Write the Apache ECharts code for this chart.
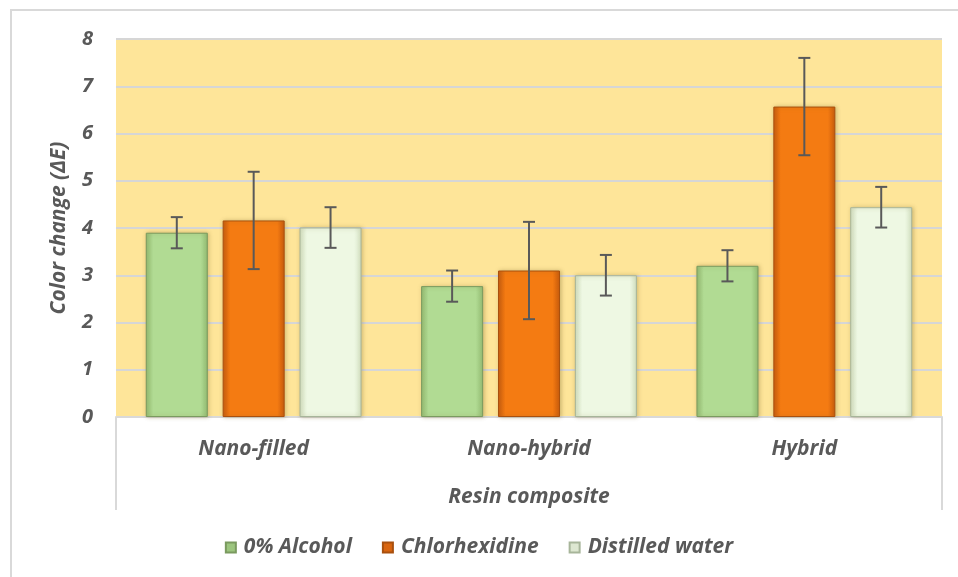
<!DOCTYPE html>
<html>
<head>
<meta charset="utf-8">
<script src="https://cdn.jsdelivr.net/npm/echarts@6/dist/echarts.min.js"></script>
<style>
  html, body { margin: 0; padding: 0; background: #fff; }
  #chart { width: 958px; height: 577px; }
</style>
</head>
<body>
<div id="chart"></div>
<script>
// categories and series
const categories = ["Nano-filled", "Nano-hybrid", "Hybrid"];
const seriesNames = ["0% Alcohol", "Chlorhexidine", "Distilled water"];
const alcohol = [3.9, 2.77, 3.2];
const chlorhexidine = [4.16, 3.1, 6.57];
const water = [4.01, 3.0, 4.44];
// standard deviations (error bars)
const alcoholSd = [0.33, 0.33, 0.33];
const chlorhexidineSd = [1.03, 1.03, 1.03];
const waterSd = [0.43, 0.43, 0.43];
const yTicks = [0, 1, 2, 3, 4, 5, 6, 7, 8];

const FONT = "'Open Sans', 'Noto Sans', sans-serif";
const TEXT = "#595959";
const txt = (size) => ({ fontFamily: FONT, fontSize: size, fontWeight: "bold", fontStyle: "italic", color: TEXT });

// bevel-ish horizontal gradients
const grad = (edge, mid) => new echarts.graphic.LinearGradient(0, 0, 1, 0, [
  { offset: 0, color: edge },
  { offset: 0.12, color: mid },
  { offset: 0.88, color: mid },
  { offset: 1, color: edge },
]);
const colors = [
  { fill: grad("#93bd74", "#b1db93"), border: "#7a9a5f", legend: "#9cc57e" },
  { fill: grad("#c85a0c", "#f47b12"), border: "#a9500e", legend: "#d9650f" },
  { fill: grad("#d4e2c4", "#eef8e3"), border: "#a7b59a", legend: "#dde7d1" },
];

const values = [alcohol, chlorhexidine, water];
const sds = [alcoholSd, chlorhexidineSd, waterSd];

const chart = echarts.init(document.getElementById("chart"));

const barSeries = seriesNames.map((name, i) => ({
  name,
  type: "bar",
  data: values[i],
  barWidth: 62,
  barGap: "24%",
  itemStyle: {
    color: colors[i].fill,
    borderColor: colors[i].border,
    borderWidth: 1,
    shadowColor: "rgba(120,100,40,0.35)",
    shadowBlur: 4,
    shadowOffsetX: 1,
    shadowOffsetY: 0,
  },
  z: 2,
}));

// error bars drawn by custom series, offset per bar slot
const errorSeries = seriesNames.map((name, i) => ({
  name: name + " err",
  type: "custom",
  z: 5,
  data: values[i].map((v, k) => [k, v - sds[i][k], v + sds[i][k]]),
  encode: { x: 0, y: [1, 2] },
  renderItem: (params, api) => {
    const k = api.value(0);
    const lo = api.coord([k, api.value(1)]);
    const hi = api.coord([k, api.value(2)]);
    const barW = 62, gap = 62 * 0.24;
    const x = lo[0] + (i - 1) * (barW + gap);
    const cap = 6;
    const style = { stroke: "#595959", lineWidth: 2 };
    return {
      type: "group",
      children: [
        { type: "line", shape: { x1: x, y1: lo[1], x2: x, y2: hi[1] }, style },
        { type: "line", shape: { x1: x - cap, y1: lo[1], x2: x + cap, y2: lo[1] }, style },
        { type: "line", shape: { x1: x - cap, y1: hi[1], x2: x + cap, y2: hi[1] }, style },
      ],
    };
  },
}));

chart.setOption({
  backgroundColor: "#fff",
  animation: false,
  textStyle: { fontFamily: FONT },
  grid: {
    left: 116,
    right: 16,
    top: 39,
    bottom: 160,
    show: true,
    backgroundColor: "#fee599",
    borderWidth: 0,
  },
  legend: {
    data: seriesNames.map((n, i) => ({ name: n, itemStyle: { color: colors[i].legend } })),
    bottom: 14,
    left: "center",
    itemWidth: 10,
    itemHeight: 10,
    itemGap: 30,
    icon: "rect",
    textStyle: Object.assign(txt(21), { padding: [0, 0, 0, 3] }),
  },
  xAxis: {
    type: "category",
    data: categories,
    name: "Resin composite",
    nameLocation: "middle",
    nameGap: 70,
    nameTextStyle: txt(21),
    axisLine: { show: true, lineStyle: { color: "#d9d9d9", width: 2 } },
    axisTick: { show: false },
    axisLabel: Object.assign({ margin: 22 }, txt(21)),
  },
  yAxis: {
    type: "value",
    min: 0,
    max: 8,
    interval: 1,
    name: "Color change (ΔE)",
    nameLocation: "middle",
    nameGap: 46,
    nameTextStyle: txt(21),
    axisLine: { show: false },
    axisTick: { show: false },
    axisLabel: Object.assign({
      margin: 23,
      formatter: (v) => (yTicks.includes(v) ? String(v) : ""),
    }, txt(20)),
    splitLine: { show: true, lineStyle: { color: "#d6d6d6", width: 2 } },
  },
  graphic: [
    // outer chart border
    { type: "rect", shape: { x: 11, y: 10, width: 960, height: 580 }, style: { fill: "none", stroke: "#d9d9d9", lineWidth: 2 }, silent: true },
    // category box side lines
    { type: "line", shape: { x1: 116, y1: 417, x2: 116, y2: 510 }, style: { stroke: "#d9d9d9", lineWidth: 2 }, silent: true },
    { type: "line", shape: { x1: 942, y1: 417, x2: 942, y2: 510 }, style: { stroke: "#d9d9d9", lineWidth: 2 }, silent: true },
  ],
  series: [...barSeries, ...errorSeries],
});
</script>
</body>
</html>
